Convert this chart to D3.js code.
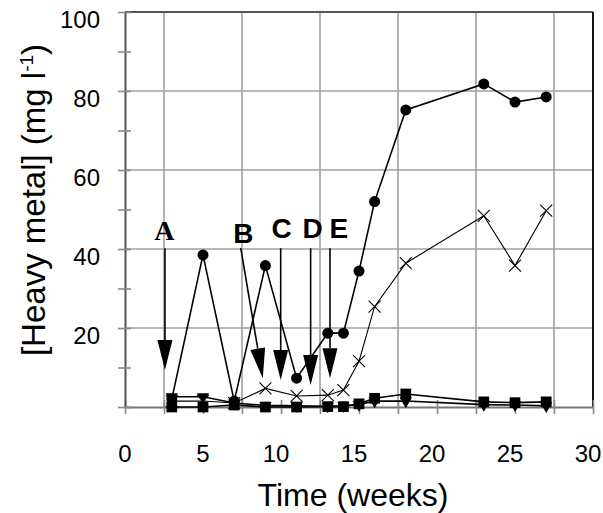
<!DOCTYPE html>
<html>
<head>
<meta charset="utf-8">
<script src="https://cdn.jsdelivr.net/npm/d3@7"></script>
<style>
  body { margin: 0; background: #fff; }
  text { font-family: "Liberation Sans", Arial, sans-serif; }
</style>
</head>
<body>
<div id="chart"></div>
<script>
// sampling times (weeks)
var weeks = [3, 5, 7, 9, 11, 13, 14, 15, 16, 18, 23, 25, 27];

// heavy metal concentrations (mg l-1), one array per series
var circles   = [2, 38.5, 1.5, 35.8, 7.3, 18.7, 18.7, 34.4, 52, 75.2, 81.8, 77.2, 78.5];
var crosses   = [1.5, 1.5, 1, 4.7, 2.8, 3.0, 4.3, 11.6, 25.4, 36.4, 48.4, 35.8, 49.7];
var triangles = [2.6, 2.6, 1, 0.4, 0.3, 0.2, 0.3, 0.6, 1.5, 1.5, 0.6, 0.5, 0.3];
var squares   = [0, 0, 0.5, 0, 0, 0.1, 0.1, 0.8, 2.2, 3.3, 1.3, 1.1, 1.3];

// axis ticks
var xTickLabels = [0, 5, 10, 15, 20, 25, 30];
var yTickLabels = [20, 40, 60, 80, 100];

// arrow annotations (data units)
var annoLabels = ["A", "B", "C", "D", "E"];
var annoLabelX = [2.53, 7.58, 10.04, 12.03, 13.7];
var annoLabelY = [42.3, 41.5, 42.7, 42.7, 42.7];
var arrowTopX  = [2.56, 7.42, 9.98, 11.9, 13.14];
var arrowTopY  = [40.2, 40.2, 40.2, 40.2, 40.2];
var arrowTipX  = [2.56, 8.83, 9.98, 11.9, 13.14];
var arrowTipY  = [9.37, 7.27, 6.84, 5.57, 7.27];

var W = 603, H = 513;
var margin = {top: 12, right: 10, bottom: 106, left: 125};
var width = 468, height = 395;

var svg = d3.select("#chart").append("svg")
  .attr("width", W)
  .attr("height", H);

var g = svg.append("g")
  .attr("transform", "translate(" + margin.left + "," + margin.top + ")");

var x = d3.scaleLinear().domain([0, 30]).range([0, width]);
var y = d3.scaleLinear().domain([0, 100]).range([height, 0]);

// gridlines
g.append("g").selectAll("line")
  .data(d3.range(2.5, 30, 5))
  .enter().append("line")
  .attr("x1", function(d) { return x(d); })
  .attr("x2", function(d) { return x(d); })
  .attr("y1", 0).attr("y2", height)
  .attr("stroke", "#a0a0a0").attr("stroke-width", 1.6);

g.append("g").selectAll("line")
  .data([20, 40, 60, 80])
  .enter().append("line")
  .attr("x1", 0).attr("x2", width)
  .attr("y1", function(d) { return y(d); })
  .attr("y2", function(d) { return y(d); })
  .attr("stroke", "#a0a0a0").attr("stroke-width", 1.6);

// top and right border
g.append("line").attr("x1", 0).attr("x2", width).attr("y1", y(100)).attr("y2", y(100))
  .attr("stroke", "#555").attr("stroke-width", 2);
g.append("line").attr("x1", x(30)).attr("x2", x(30)).attr("y1", 0).attr("y2", height)
  .attr("stroke", "#111").attr("stroke-width", 2);

// x axis with crossing ticks
var xAxis = d3.axisBottom(x)
  .tickValues(d3.range(0, 30.1, 2.5))
  .tickSizeInner(7).tickSizeOuter(0)
  .tickFormat("");
var gx = g.append("g").attr("transform", "translate(0," + height + ")").call(xAxis);
gx.select(".domain").attr("stroke", "#777").attr("stroke-width", 2);
gx.selectAll(".tick line").attr("stroke", "#888").attr("stroke-width", 1.6).attr("y1", -7);

// y axis with crossing ticks
var yAxis = d3.axisLeft(y)
  .tickValues(d3.range(0, 100.1, 10))
  .tickSizeInner(7).tickSizeOuter(0)
  .tickFormat("");
var gy = g.append("g").call(yAxis);
gy.select(".domain").attr("stroke", "#555").attr("stroke-width", 2);
gy.selectAll(".tick line").attr("stroke", "#888").attr("stroke-width", 1.6).attr("x1", 6);

// tick labels
g.append("g").selectAll("text")
  .data(xTickLabels)
  .enter().append("text")
  .attr("x", function(d) { return x(d) - (d >= 10 ? 5 : 0); })
  .attr("y", 453 - margin.top)
  .attr("text-anchor", "middle")
  .attr("dominant-baseline", "central")
  .attr("font-size", 24)
  .text(function(d) { return d; });

g.append("g").selectAll("text")
  .data(yTickLabels)
  .enter().append("text")
  .attr("x", -25)
  .attr("y", function(d) { return y(d) + 7; })
  .attr("text-anchor", "end")
  .attr("dominant-baseline", "central")
  .attr("font-size", 24)
  .text(function(d) { return d; });

// axis titles
svg.append("text")
  .attr("x", 353).attr("y", 495)
  .attr("text-anchor", "middle")
  .attr("dominant-baseline", "central")
  .attr("font-size", 32)
  .text("Time (weeks)");

var yt = svg.append("text")
  .attr("transform", "translate(45,200) rotate(-90)")
  .attr("text-anchor", "middle")
  .attr("font-size", 33);
yt.append("tspan").text("[Heavy metal] (mg l");
yt.append("tspan").attr("font-size", 19).attr("dy", -12).text("-1");
yt.append("tspan").attr("dy", 12).text(")");

// series
var line = d3.line()
  .x(function(d) { return x(d[0]); })
  .y(function(d) { return y(d[1]); });

function pairs(vals) {
  return weeks.map(function(w, i) { return [w, vals[i]]; });
}

var series = [
  {vals: squares, sym: d3.symbolSquare, size: 115, w: 1.6},
  {vals: triangles, sym: d3.symbolTriangle, size: 65, w: 1.6, flip: true},
  {vals: crosses, sym: null, w: 1.1},
  {vals: circles, sym: d3.symbolCircle, size: 95, w: 1.6}
];

series.forEach(function(s) {
  var pts = pairs(s.vals);
  g.append("path")
    .datum(pts)
    .attr("fill", "none")
    .attr("stroke", "#000")
    .attr("stroke-width", s.w)
    .attr("d", line);

  if (s.sym) {
    g.append("g").selectAll("path")
      .data(pts)
      .enter().append("path")
      .attr("transform", function(d) {
        return "translate(" + x(d[0]) + "," + y(d[1]) + ")" + (s.flip ? " rotate(180)" : "");
      })
      .attr("d", d3.symbol().type(s.sym).size(s.size))
      .attr("fill", "#000");
  } else {
    g.append("g").selectAll("path")
      .data(pts)
      .enter().append("path")
      .attr("transform", function(d) {
        return "translate(" + x(d[0]) + "," + y(d[1]) + ")";
      })
      .attr("d", "M-6,-6L6,6M-6,6L6,-6")
      .attr("stroke", "#000")
      .attr("stroke-width", 1.1)
      .attr("fill", "none");
  }
});

// arrows
var headLen = 30, headHalf = 7.5;
annoLabels.forEach(function(lab, i) {
  var x0 = x(arrowTopX[i]), y0 = y(arrowTopY[i]);
  var x1 = x(arrowTipX[i]), y1 = y(arrowTipY[i]);
  var dx = x1 - x0, dy = y1 - y0;
  var len = Math.sqrt(dx * dx + dy * dy);
  var ux = dx / len, uy = dy / len;
  var bx = x1 - ux * headLen, by = y1 - uy * headLen;

  g.append("line")
    .attr("x1", x0).attr("y1", y0)
    .attr("x2", bx).attr("y2", by)
    .attr("stroke", "#000").attr("stroke-width", 1.6);

  g.append("path")
    .attr("d", "M" + (bx - uy * headHalf) + "," + (by + ux * headHalf) +
               "L" + (bx + uy * headHalf) + "," + (by - ux * headHalf) +
               "L" + x1 + "," + y1 + "Z")
    .attr("fill", "#000");

  g.append("text")
    .attr("x", x(annoLabelX[i]))
    .attr("y", y(annoLabelY[i]))
    .attr("text-anchor", "middle")
    .attr("font-size", 28)
    .attr("font-weight", "bold")
    .style("font-family", lab === "A" ? "'Liberation Serif', 'Times New Roman', serif" : "'Liberation Sans', Arial, sans-serif")
    .text(lab);
});
</script>
</body>
</html>
